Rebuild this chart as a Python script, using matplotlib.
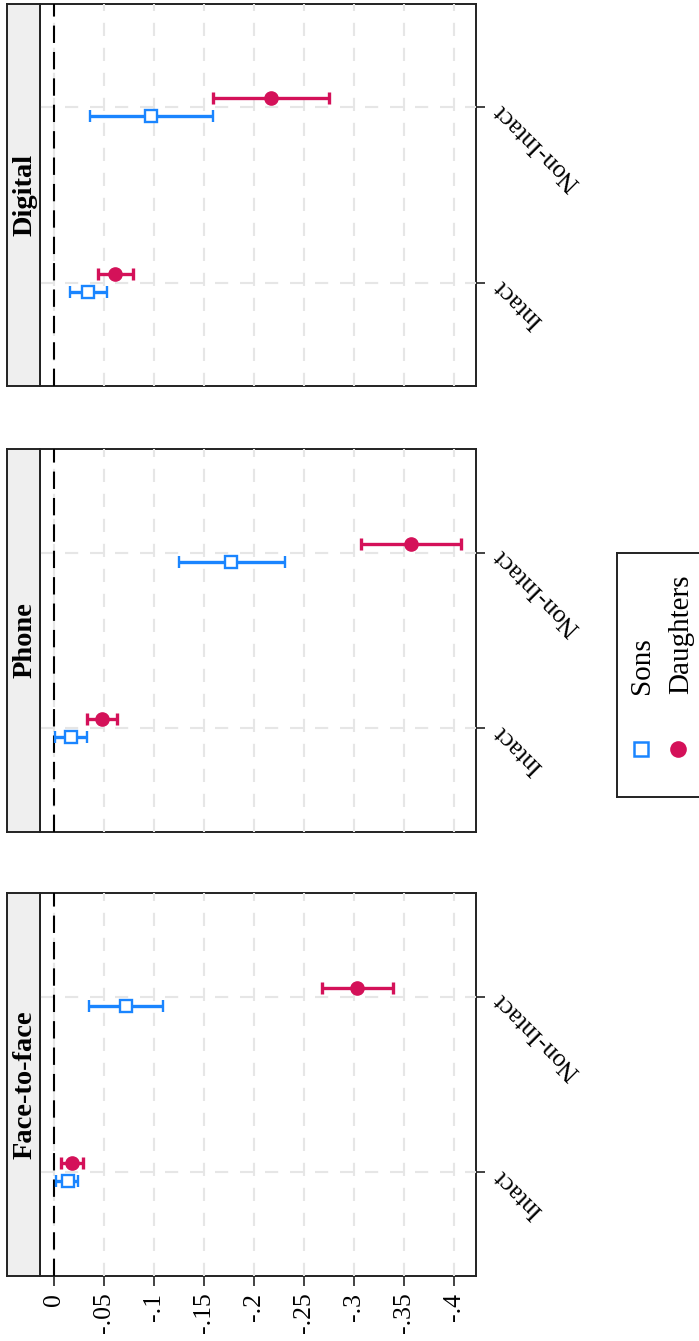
import matplotlib
matplotlib.use("Agg")
import matplotlib.pyplot as plt
import numpy as np

plt.rcParams['font.family'] = ['Liberation Serif', 'DejaVu Serif']
plt.rcParams['lines.scale_dashes'] = False

# ---------------- data ----------------
panels = ['Face-to-face', 'Phone', 'Digital']
categories = ['Intact', 'Non-Intact']
value_ticks = [0, -0.05, -0.1, -0.15, -0.2, -0.25, -0.3, -0.35, -0.4]
value_tick_labels = ['0', '-.05', '-.1', '-.15', '-.2', '-.25', '-.3', '-.35', '-.4']

# estimates [Intact, Non-Intact] per panel
sons_est = {'Face-to-face': [-0.014, -0.072], 'Phone': [-0.017, -0.177], 'Digital': [-0.034, -0.097]}
sons_lo = {'Face-to-face': [-0.024, -0.109], 'Phone': [-0.033, -0.231], 'Digital': [-0.053, -0.159]}
sons_hi = {'Face-to-face': [-0.002, -0.035], 'Phone': [-0.001, -0.125], 'Digital': [-0.016, -0.036]}

dau_est = {'Face-to-face': [-0.018, -0.303], 'Phone': [-0.048, -0.357], 'Digital': [-0.061, -0.217]}
dau_lo = {'Face-to-face': [-0.029, -0.339], 'Phone': [-0.063, -0.407], 'Digital': [-0.079, -0.275]}
dau_hi = {'Face-to-face': [-0.007, -0.268], 'Phone': [-0.033, -0.307], 'Digital': [-0.044, -0.159]}

series_labels = ['Sons', 'Daughters']

# ---------------- style ----------------
W, H = 699, 1341
SONS_C = '#1A85FF'
DAU_C = '#D41159'
GRID_C = '#E6E6E6'

fig = plt.figure(figsize=(W / 100, H / 100), dpi=100)

# panel vertical extents in pixels (top, bottom)
extents = {'Digital': (4, 386), 'Phone': (449, 832), 'Face-to-face': (893, 1276)}
x_left, x_right, strip_left = 40, 475.7, 7

def rect(x0, y0, x1, y1):
    return [x0 / W, 1 - y1 / H, (x1 - x0) / W, (y1 - y0) / H]

ypos = np.arange(1, len(categories) + 1)
off = 0.052

for p in panels:
    top, bot = extents[p]
    ax = fig.add_axes(rect(x_left, top, x_right, bot))
    sax = fig.add_axes(rect(strip_left, top, x_left, bot))

    # strip
    sax.set_facecolor('#EFEFEF')
    sax.set_xticks([]); sax.set_yticks([])
    for s in sax.spines.values():
        s.set_linewidth(1.4); s.set_color('#222222')
    sax.text(0.55, 0.5, p, rotation=90, ha='center', va='center',
             fontsize=20.5, fontweight='bold', transform=sax.transAxes)

    # data
    se = np.array(sons_est[p]); sl = np.array(sons_lo[p]); sh = np.array(sons_hi[p])
    de = np.array(dau_est[p]); dl = np.array(dau_lo[p]); dh = np.array(dau_hi[p])

    ax.axvline(0, color='black', lw=1.5, ls=(0, (12.5, 6.5)), zorder=1)

    ax.errorbar(se, ypos - off, xerr=[se - sl, sh - se], fmt='s', color=SONS_C,
                mfc='white', mec=SONS_C, ms=9, mew=1.7, elinewidth=2.4,
                capsize=4, capthick=2.4, zorder=3)
    ax.errorbar(de, ypos + off, xerr=[de - dl, dh - de], fmt='o', color=DAU_C,
                mfc=DAU_C, mec=DAU_C, ms=9.5, elinewidth=2.4,
                capsize=4, capthick=2.4, zorder=3)

    ax.set_xlim(0.0143, -0.4216)
    ax.set_ylim(0.41, 2.59)
    ax.set_xticks(value_ticks)
    ax.set_xticklabels(value_tick_labels)
    ax.set_yticks(ypos)
    ax.set_yticklabels(categories)
    ax.yaxis.tick_right()

    ax.grid(True, color=GRID_C, lw=1.5, ls=(0, (9.5, 8.5)))
    ax.set_axisbelow(True)
    for s in ax.spines.values():
        s.set_linewidth(1.4); s.set_color('#222222'); s.set_zorder(0.4)

    ax.tick_params(axis='y', which='both', left=False, right=True, labelleft=False,
                   labelright=True, length=6.5, width=1.2, color='#222222',
                   labelsize=18.5, pad=9)
    for lab in ax.get_yticklabels():
        lab.set_rotation(135)
        lab.set_rotation_mode('anchor')
        lab.set_ha('right')
        lab.set_va('center')

    if p == 'Face-to-face':
        ax.tick_params(axis='x', length=7, width=1.2, color='#222222',
                       labelsize=18.5, labelrotation=90, pad=5)
    else:
        ax.tick_params(axis='x', bottom=False, labelbottom=False)

# ---------------- legend ----------------
lx0, ly0, lx1, ly1 = 617, 553, 760, 797
lax = fig.add_axes(rect(lx0, ly0, lx1, ly1))
lax.set_xlim(lx0, lx1); lax.set_ylim(ly1, ly0)
lax.set_xticks([]); lax.set_yticks([])
lax.patch.set_alpha(0)
for s in lax.spines.values():
    s.set_linewidth(1.4); s.set_color('#222222')
lax.plot([641], [749.3], 's', mfc='white', mec=SONS_C, ms=10.5, mew=1.8)
lax.plot([678.3], [749.3], 'o', mfc=DAU_C, mec=DAU_C, ms=12, mew=0)
lax.text(649.3, 694, series_labels[0], rotation=90, rotation_mode='anchor',
         ha='left', va='baseline', fontsize=21)
lax.text(688, 694, series_labels[1], rotation=90, rotation_mode='anchor',
         ha='left', va='baseline', fontsize=21)

fig.savefig('out.png', dpi=100)
